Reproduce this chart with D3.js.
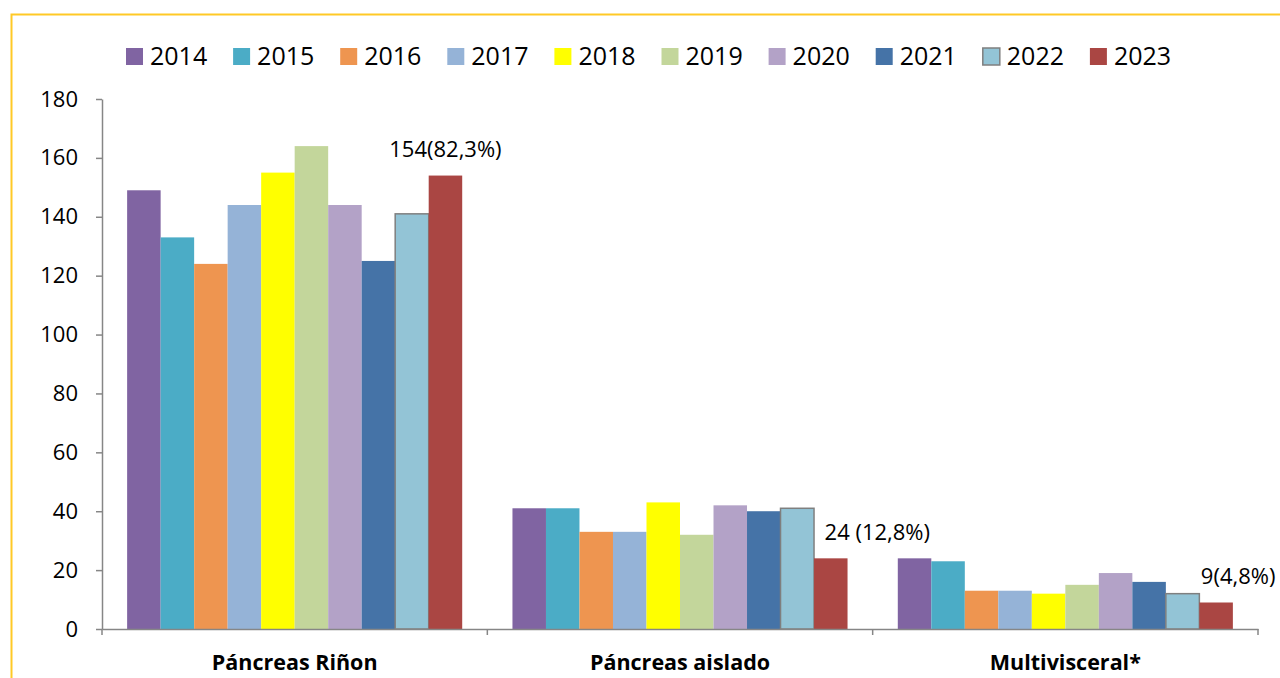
<!DOCTYPE html>
<html>
<head>
<meta charset="utf-8">
<script src="https://cdn.jsdelivr.net/npm/d3@7/dist/d3.min.js"></script>
<style>
  html, body { margin: 0; padding: 0; background: #fff; }
  svg { display: block; font-family: "Open Sans", Lato, sans-serif; }
</style>
</head>
<body>
<svg id="chart" width="1280" height="678"></svg>
<script>
// Trasplantes de páncreas por tipo, 2014–2023
const categories = ["Páncreas Riñon", "Páncreas aislado", "Multivisceral*"];
const years = ["2014", "2015", "2016", "2017", "2018", "2019", "2020", "2021", "2022", "2023"];
const seriesValues = [
  [149, 41, 24],  // 2014
  [133, 41, 23],  // 2015
  [124, 33, 13],  // 2016
  [144, 33, 13],  // 2017
  [155, 43, 12],  // 2018
  [164, 32, 15],  // 2019
  [144, 42, 19],  // 2020
  [125, 40, 16],  // 2021
  [141, 41, 12],  // 2022
  [154, 24, 9]    // 2023
];
const labels2023 = ["154(82,3%)", "24 (12,8%)", "9(4,8%)"];
const yTicks = [0, 20, 40, 60, 80, 100, 120, 140, 160, 180];

const colors = ["#8064A2", "#4BACC6", "#EE9550", "#95B3D7", "#FFFF00",
                "#C3D69B", "#B3A2C7", "#4573A7", "#93C4D6", "#AA4643"];

const FONT = "'Open Sans', Lato, sans-serif";
const svg = d3.select("#chart");

// outer frame (top and left edges visible)
svg.append("path")
  .attr("d", "M11.5,678 V14.5 H1290")
  .attr("fill", "none").attr("stroke", "#FFC926").attr("stroke-width", 2);

const plot = { left: 102, right: 1258, top: 99, bottom: 629 };

const x0 = d3.scaleBand().domain(categories).range([plot.left, plot.right]).padding(0);
const x1 = d3.scaleBand().domain(years).range([0, x0.bandwidth()]).paddingInner(0).paddingOuter(0.75);
const y = d3.scaleLinear().domain([0, 180]).range([plot.bottom, plot.top]);

// y axis
const yAxis = d3.axisLeft(y).tickValues(yTicks).tickSize(6).tickSizeOuter(0).tickPadding(18);
const gy = svg.append("g").attr("transform", `translate(${plot.left},0)`).call(yAxis);
gy.select(".domain").attr("stroke", "#868686").attr("stroke-width", 1.5);
gy.selectAll(".tick line").attr("stroke", "#868686").attr("stroke-width", 1.5);
gy.selectAll(".tick text").attr("font-size", 22).attr("fill", "#000").attr("font-family", FONT);

// bars
const groups = svg.append("g").selectAll("g")
  .data(years)
  .join("g")
  .attr("fill", (d, i) => colors[i]);

groups.each(function(yr, i) {
  d3.select(this).selectAll("rect")
    .data(seriesValues[i].map((v, c) => ({ v, c })))
    .join("rect")
    .attr("x", d => x0(categories[d.c]) + x1(yr))
    .attr("y", d => y(d.v))
    .attr("width", x1.bandwidth())
    .attr("height", d => y(0) - y(d.v))
    .attr("stroke", yr === "2022" ? "#7F7F7F" : "none")
    .attr("stroke-width", yr === "2022" ? 1.5 : 0);
});

// x axis
const xAxis = d3.axisBottom(x0).tickSize(0);
const gx = svg.append("g").attr("transform", `translate(0,${plot.bottom})`).call(xAxis);
gx.select(".domain").attr("stroke", "#868686").attr("stroke-width", 1.5);
gx.selectAll(".tick text")
  .attr("y", 41).attr("dy", 0)
  .attr("font-size", 21.5).attr("font-weight", "bold").attr("fill", "#000").attr("font-family", FONT);
// category separators
svg.append("g").selectAll("line")
  .data(categories.map(c => x0(c)).concat([plot.right]))
  .join("line")
  .attr("x1", d => d).attr("x2", d => d)
  .attr("y1", plot.bottom).attr("y2", plot.bottom + 6)
  .attr("stroke", "#868686").attr("stroke-width", 1.5);

// 2023 value labels
const lastIdx = years.length - 1;
const labelOffsets = [[0, -18.5], [46.5, -18.5], [22, -18.5]];
svg.append("g").selectAll("text")
  .data(labels2023)
  .join("text")
  .attr("x", (d, c) => x0(categories[c]) + x1(years[lastIdx]) + x1.bandwidth() / 2 + labelOffsets[c][0])
  .attr("y", (d, c) => y(seriesValues[lastIdx][c]) + labelOffsets[c][1])
  .attr("text-anchor", "middle")
  .attr("font-size", 22)
  .attr("fill", "#000")
  .text(d => d);

// legend
const legend = svg.append("g").selectAll("g")
  .data(years)
  .join("g")
  .attr("transform", (d, i) => `translate(${126 + i * 107.1},48)`);
legend.append("rect")
  .attr("width", 17).attr("height", 17)
  .attr("fill", (d, i) => colors[i])
  .attr("stroke", d => d === "2022" ? "#7F7F7F" : "none")
  .attr("stroke-width", 1.5);
legend.append("text")
  .attr("x", 24).attr("y", 17)
  .attr("font-size", 25)
  .attr("fill", "#000")
  .text(d => d);
</script>
</body>
</html>
